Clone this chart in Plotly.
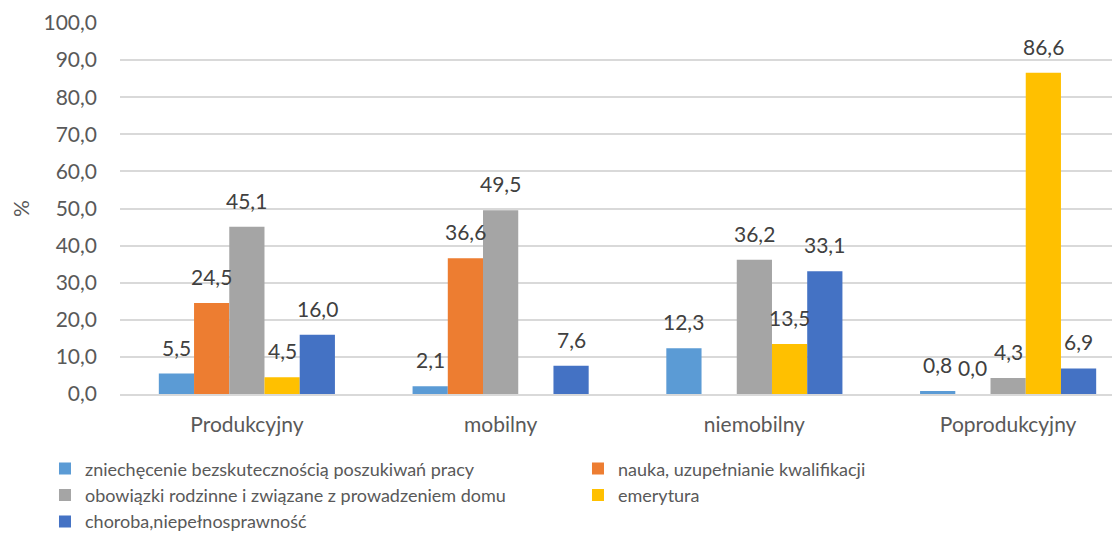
import plotly.graph_objects as go

categories = ["Produkcyjny", "mobilny", "niemobilny", "Poprodukcyjny"]

series_names = [
    "zniechęcenie bezskutecznością poszukiwań pracy",
    "nauka, uzupełnianie kwalifikacji",
    "obowiązki rodzinne i związane z prowadzeniem domu",
    "emerytura",
    "choroba,niepełnosprawność",
]
zniechecenie = [5.5, 2.1, 12.3, 0.8]
nauka = [24.5, 36.6, None, 0.0]
obowiazki = [45.1, 49.5, 36.2, 4.3]
emerytura = [4.5, None, 13.5, 86.6]
choroba = [16.0, 7.6, 33.1, 6.9]

series_values = [zniechecenie, nauka, obowiazki, emerytura, choroba]
colors = ["#5b9bd5", "#ed7d31", "#a5a5a5", "#ffc000", "#4472c4"]

FONT = "Lato, 'Open Sans', sans-serif"
# page body has an 8px margin; the source chart's plot area runs past the
# right edge of the picture, so the figure is a little wider than the window
W, H = 1130, 528
M = dict(l=112, r=3, t=15, b=142, autoexpand=False)
BARGAP = 0.306

fig = go.Figure()
for name, vals, col in zip(series_names, series_values, colors):
    fig.add_trace(go.Bar(
        x=categories, y=vals, name=name,
        marker=dict(color=col, line=dict(width=0)),
    ))

# data labels sit a little above each bar, as in the source chart
plot_w = W - M["l"] - M["r"]
bar_px = plot_w / len(categories) * (1 - BARGAP) / len(series_values)
for i, vals in enumerate(series_values):
    for cat, v in zip(categories, vals):
        if v is None:
            continue
        fig.add_annotation(
            x=cat, y=v, xref="x", yref="y",
            text=f"{v:.1f}".replace(".", ","),
            showarrow=False, yanchor="bottom",
            xshift=(i - (len(series_values) - 1) / 2) * bar_px, yshift=12,
            font=dict(size=21, color="#404040", family=FONT),
        )

fig.update_layout(
    width=W, height=H,
    paper_bgcolor="white", plot_bgcolor="white",
    separators=", ",
    barmode="group", bargap=BARGAP, bargroupgap=0,
    font=dict(family=FONT, color="#595959", size=18),
    margin=M,
    xaxis=dict(
        showline=True, linecolor="#d9d9d9", linewidth=1.5,
        ticks="", tickfont=dict(size=21, color="#595959"),
        ticklabelstandoff=11,
    ),
    yaxis=dict(
        range=[0, 100], dtick=10, tickformat=".1f",
        gridcolor="#d9d9d9", gridwidth=1.5, zeroline=False,
        showline=False, ticks="", ticklabelstandoff=22,
        tickfont=dict(size=21, color="#595959"),
        title=dict(text="%", font=dict(size=21, color="#595959"), standoff=14),
    ),
    legend=dict(
        orientation="h", x=-0.0739, xanchor="left", y=-0.152, yanchor="top",
        entrywidth=488, entrywidthmode="pixels",
        font=dict(size=18, color="#595959"),
        itemwidth=30, tracegroupgap=0,
    ),
)

fig.write_html("out.html")
